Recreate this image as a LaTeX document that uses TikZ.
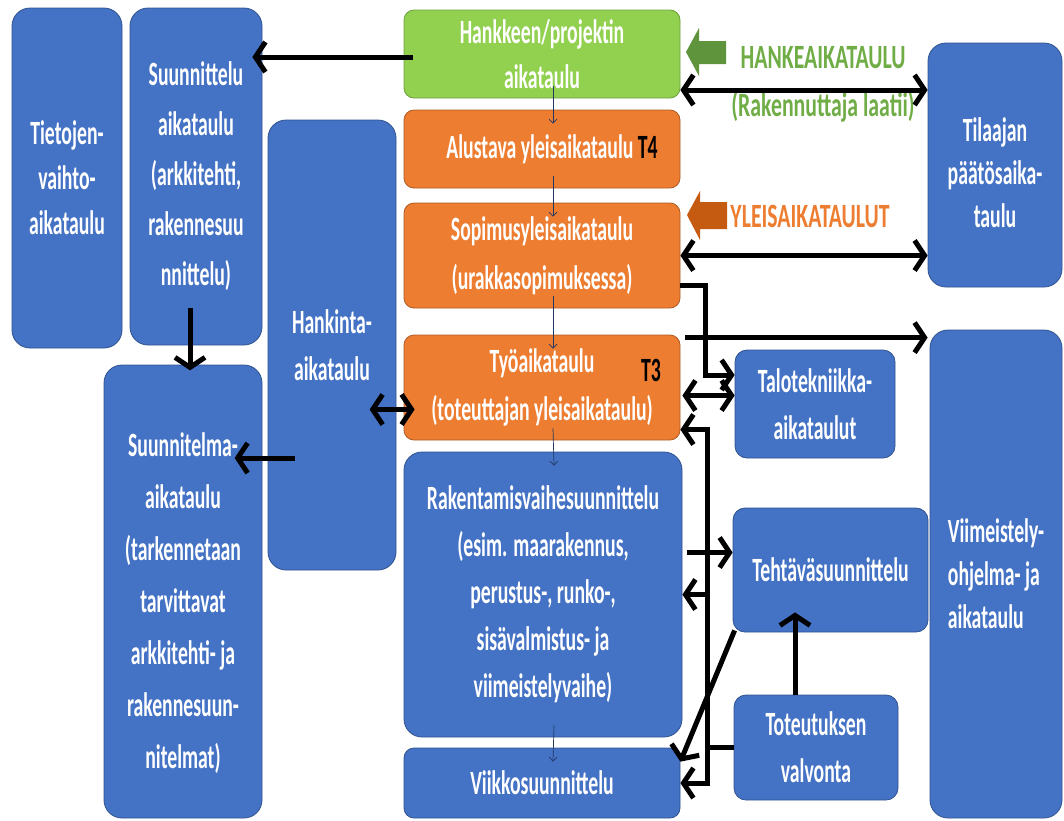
\documentclass[tikz,border=0pt]{standalone}
\usepackage{fontspec}
\newfontfamily\boxfont{Carlito}[FakeStretch=0.58]
\newfontfamily\lblfont{Carlito}[FakeStretch=0.64]
\usetikzlibrary{calc,arrows.meta}

\definecolor{boxblue}{HTML}{4472C4}
\definecolor{boxblueline}{HTML}{2F528F}
\definecolor{boxorange}{HTML}{ED7D31}
\definecolor{boxorangeline}{HTML}{AE5A21}
\definecolor{boxgreen}{HTML}{92D050}
\definecolor{boxgreenline}{HTML}{6E9E3C}
\definecolor{hkgreen}{HTML}{70AD47}
\definecolor{ylorange}{HTML}{C55A11}
\definecolor{thinblue}{HTML}{203864}

\tikzset{
  box/.style={rounded corners=18pt, line width=0.8pt, text=white, align=center,
    inner sep=2pt, font=\boxfont\bfseries\fontsize{34}{47}\selectfont},
  bluebox/.style={box, fill=boxblue, draw=boxblueline},
  orangebox/.style={box, fill=boxorange, draw=boxorangeline, rounded corners=10pt},
  greenbox/.style={box, fill=boxgreen, draw=boxgreenline, rounded corners=10pt},
  lbl/.style={align=center, font=\lblfont\bfseries\fontsize{34}{48}\selectfont},
  bigarr/.style={line width=5pt, arrows={-Straight Barb[length=10pt,width=30pt]}},
  dblarr/.style={bigarr, arrows={Straight Barb[length=10pt,width=30pt]-Straight Barb[length=10pt,width=30pt]}},
  thinarr/.style={line width=0.7pt, draw=thinblue, arrows={-Straight Barb[length=4pt,width=8pt]}}
}

\begin{document}
\begin{tikzpicture}[x=1pt, y=-1pt]
  \useasboundingbox (0,0) rectangle (1064,820);

  % left column
  \node[bluebox, minimum width=110pt, minimum height=340pt, font=\boxfont\bfseries\fontsize{34}{45}\selectfont] (tieto) at (67,178) {Tietojen-\\vaihto-\\aikataulu};
  \node[bluebox, minimum width=132pt, minimum height=337pt, font=\boxfont\bfseries\fontsize{34}{50}\selectfont] (suun) at (196,176.5) {Suunnittelu\\aikataulu\\(arkkitehti,\\rakennesuu\\nnittelu)};
  \node[bluebox, minimum width=128pt, minimum height=450pt] (hank) at (332,345) {Hankinta-\\aikataulu};
  \node[bluebox, minimum width=158pt, minimum height=453pt, font=\boxfont\bfseries\fontsize{34}{52}\selectfont] (suunm) at (183,591.5) {\rule{0pt}{48pt}Suunnitelma-\\aikataulu\\(tarkennetaan\\tarvittavat\\arkkitehti- ja\\rakennesuun-\\nitelmat)};

  % centre column
  \node[greenbox, minimum width=276pt, minimum height=88pt, font=\boxfont\bfseries\fontsize{34}{45}\selectfont] (green) at (542,54) {Hankkeen/projektin\\aikataulu};
  \node[orangebox, minimum width=276pt, minimum height=78pt] (alust) at (542,149) {\hspace*{20pt}Alustava yleisaikataulu \textcolor{black}{T4}};
  \node[orangebox, minimum width=276pt, minimum height=105pt, font=\boxfont\bfseries\fontsize{34}{49}\selectfont] (sopim) at (542,255.5) {Sopimusyleisaikataulu\\(urakkasopimuksessa)};
  \node[orangebox, minimum width=276pt, minimum height=105pt, font=\boxfont\bfseries\fontsize{34}{48}\selectfont] (tyo) at (542,387.5) {Työaikataulu\\(toteuttajan yleisaikataulu)};
  \node[font=\boxfont\bfseries\fontsize{34}{42}\selectfont] (t3) at (651,370) {T3};
  \node[bluebox, minimum width=278pt, minimum height=285pt] (rak) at (543,594.5) {Rakentamisvaihesuunnittelu\\(esim. maarakennus,\\perustus-, runko-,\\sisävalmistus- ja\\viimeistelyvaihe)};
  \node[bluebox, minimum width=276pt, minimum height=70pt, rounded corners=10pt] (viikko) at (542,783) {Viikkosuunnittelu};

  % right side
  \node[bluebox, minimum width=160pt, minimum height=108pt, rounded corners=12pt] (talo) at (815,404) {Talotekniikka-\\aikataulut};
  \node[bluebox, minimum width=195pt, minimum height=124pt, rounded corners=12pt] (teht) at (830.5,570) {Tehtäväsuunnittelu};
  \node[bluebox, minimum width=164pt, minimum height=105pt, rounded corners=12pt] (tot) at (816,747.5) {Toteutuksen\\valvonta};
  \node[bluebox, minimum width=134pt, minimum height=244pt, font=\boxfont\bfseries\fontsize{34}{43}\selectfont] (tilaaja) at (995,165) {\rule{0pt}{40pt}Tilaajan\\päätösaika-\\taulu};
  \node[bluebox, minimum width=132pt, minimum height=488pt, align=left, font=\boxfont\bfseries\fontsize{34}{43}\selectfont] (viim) at (996,574) {Viimeistely-\\ohjelma- ja\\aikataulu};

  % block arrows and their labels
  \fill[hkgreen!85!black] (686,52) -- (699,28) -- (699,41) -- (726,41) -- (726,64) -- (699,64) -- (699,76) -- cycle;
  \node[lbl, text=hkgreen] (hklbl) at (823,84) {HANKEAIKATAULU\\(Rakennuttaja laatii)};
  \fill[ylorange] (687,215) -- (700,191) -- (700,202) -- (727,202) -- (727,229) -- (700,229) -- (700,240) -- cycle;
  \node[lbl, text=boxorange] (ylbl) at (810,216) {YLEISAIKATAULUT};

  % thin flow between centre boxes
  \foreach \a/\b in {green/alust, alust/sopim, sopim/tyo, tyo/rak, rak/viikko}
    \draw[thinarr] ($(\a.south)+(11,-12)$) -- ($(\b.north)+(11,14)$);

  % thick connectors
  \draw[bigarr] ($(green.west)+(9,3)$) -- ($(green.west -| suun.east)+(-10,3)$);
  \draw[dblarr] ($(green.east)+(0,36)$) -- ($(green.east -| tilaaja.west)+(0,36)$);
  \draw[dblarr] (sopim.east) -- (sopim.east -| tilaaja.west);
  \draw[bigarr] ($(tyo.north east)+(5,3)$) -- ($(tyo.north east -| viim.west)+(-2,3)$);
  \draw[bigarr] ($(sopim.east)+(0,30)$) -- ++(25,0) |- ($(talo.west)+(0,-29)$);
  \draw[dblarr] ($(tyo.east)+(2,8)$) -- ($(tyo.east -| talo.west)+(0,8)$);
  \coordinate (bus) at ($(tyo.east)+(27,42)$);
  \draw[bigarr] (tot.west) -| (bus) -- (bus -| tyo.east);
  \draw[bigarr] (bus) |- (viikko.east);
  \draw[bigarr] (bus |- rak.east) -- (rak.east);
  \draw[bigarr] ($(rak.east)+(5,-42)$) -- ($(rak.east -| teht.west)+(0,-42)$);
  \draw[bigarr] ($(tot.north)+(-21,0)$) -- ($(tot.north |- teht.south)+(-21,-20)$);
  \draw[bigarr] ($(teht.south west)+(2,-2)$) -- ($(viikko.north east)+(0,14)$);
  \draw[dblarr] ($(tyo.west)+(-34,22)$) -- ($(tyo.west)+(11,22)$);
  \draw[bigarr] ($(hank.west)+(27,113)$) -- ($(hank.west)+(-33,113)$);
  \draw[bigarr] ($(suun.south)+(-6,-37)$) -- ($(suun.south)+(-6,25)$);
\end{tikzpicture}
\end{document}
